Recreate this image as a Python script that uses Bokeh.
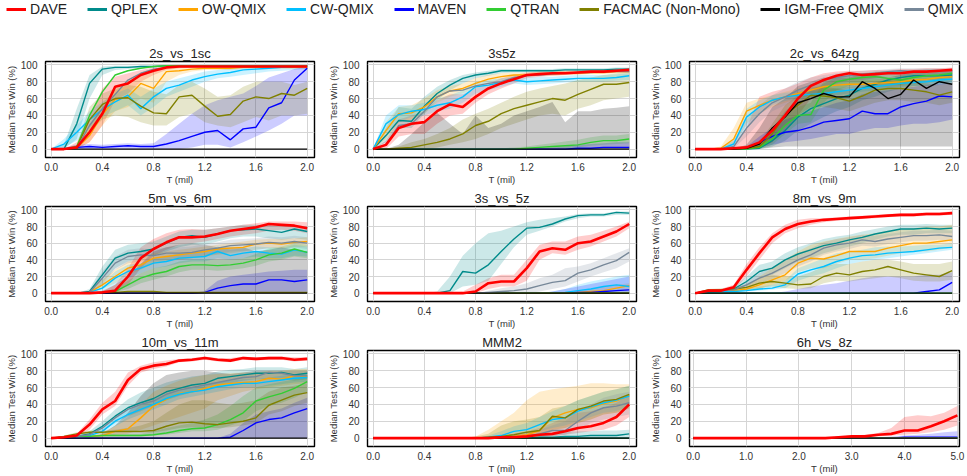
from bokeh.plotting import figure
from bokeh.models import Range1d, FixedTicker, PrintfTickFormatter, Legend, LegendItem
from bokeh.layouts import column, row
from bokeh.embed import file_html
from bokeh.resources import INLINE

FONT = "Liberation Sans"
NAMES = ["DAVE", "QPLEX", "OW-QMIX", "CW-QMIX", "MAVEN", "QTRAN",
         "FACMAC (Non-Mono)", "IGM-Free QMIX", "QMIX"]
COLORS = ["#ff0000", "#008b8b", "#ffa500", "#00bfff", "#0000ff", "#32cd32",
          "#808000", "#000000", "#778899"]
COL = dict(zip(NAMES, COLORS))

# x grids (millions of steps)
T2 = [0.0, 0.1, 0.2, 0.3, 0.4, 0.5, 0.6, 0.7, 0.8, 0.9, 1.0,
      1.1, 1.2, 1.3, 1.4, 1.5, 1.6, 1.7, 1.8, 1.9, 2.0]
T5 = [0.0, 0.25, 0.5, 0.75, 1.0, 1.25, 1.5, 1.75, 2.0, 2.25, 2.5,
      2.75, 3.0, 3.25, 3.5, 3.75, 4.0, 4.25, 4.5, 4.75, 5.0]
TICKS2 = [0.0, 0.4, 0.8, 1.2, 1.6, 2.0]
TICKS5 = [0.0, 1.0, 2.0, 3.0, 4.0, 5.0]
YTICKS = [0, 20, 40, 60, 80, 100]
ZERO = [0, 0, 0, 0, 0, 0, 0, 0, 0, 0, 0, 0, 0, 0, 0, 0, 0, 0, 0, 0, 0]

# ---------------- 2s_vs_1sc ----------------
s2v1_dave = [0, 0, 2, 20, 42, 74, 78, 88, 93, 97, 98, 98, 98, 98, 98, 98, 98, 98, 98, 98, 98]
s2v1_dave_lo = [0, 0, 0, 8, 28, 58, 66, 80, 88, 94, 96, 97, 97, 97, 97, 97, 97, 97, 97, 97, 97]
s2v1_dave_hi = [0, 0, 8, 38, 72, 86, 90, 94, 97, 99, 99, 99, 99, 99, 99, 99, 99, 99, 99, 99, 99]
s2v1_qplex = [0, 0, 30, 78, 95, 97, 97, 98, 98, 99, 99, 99, 99, 99, 99, 99, 99, 99, 99, 99, 99]
s2v1_qplex_lo = [0, 0, 12, 60, 88, 94, 95, 96, 97, 98, 98, 98, 98, 98, 98, 98, 98, 98, 98, 98, 98]
s2v1_qplex_hi = [0, 5, 48, 88, 98, 99, 99, 99, 99, 99, 99, 99, 99, 99, 99, 99, 99, 99, 99, 99, 99]
s2v1_ow = [0, 0, 1, 16, 41, 59, 62, 78, 72, 92, 93, 95, 96, 96, 96, 97, 97, 97, 97, 97, 97]
s2v1_ow_lo = [0, 0, 0, 8, 28, 45, 50, 60, 55, 80, 88, 92, 94, 94, 94, 95, 95, 95, 95, 95, 95]
s2v1_ow_hi = [0, 0, 4, 28, 55, 70, 80, 90, 92, 96, 97, 98, 98, 98, 98, 98, 98, 98, 98, 98, 98]
s2v1_cw = [0, 6, 20, 35, 47, 56, 64, 48, 62, 72, 76, 82, 86, 89, 91, 94, 95, 96, 97, 98, 98]
s2v1_cw_lo = [0, 2, 10, 25, 38, 45, 52, 40, 50, 62, 68, 74, 80, 84, 86, 88, 90, 92, 93, 94, 95]
s2v1_cw_hi = [0, 12, 28, 45, 56, 66, 72, 62, 72, 80, 84, 88, 92, 94, 96, 98, 98, 99, 99, 99, 99]
s2v1_maven = [0, 0, 2, 3, 2, 3, 4, 3, 3, 6, 10, 15, 20, 22, 11, 24, 26, 49, 55, 82, 96]
s2v1_maven_lo = [0, 0, 0, 0, 0, 0, 0, 0, 0, 0, 0, 2, 5, 5, 2, 8, 15, 22, 30, 40, 40]
s2v1_maven_hi = [0, 2, 5, 6, 5, 6, 7, 6, 7, 18, 30, 42, 52, 58, 62, 66, 75, 85, 90, 95, 98]
s2v1_qtran = [0, 0, 3, 40, 68, 88, 93, 96, 98, 99, 99, 99, 99, 99, 99, 99, 99, 99, 99, 99, 99]
s2v1_facmac = [0, 0, 2, 35, 53, 60, 61, 51, 43, 42, 62, 64, 51, 39, 41, 57, 62, 60, 66, 64, 72]
s2v1_facmac_lo = [0, 0, 0, 20, 35, 40, 38, 32, 28, 28, 38, 42, 32, 28, 26, 32, 38, 34, 40, 40, 42]
s2v1_facmac_hi = [0, 0, 5, 50, 66, 72, 76, 74, 68, 65, 76, 80, 72, 62, 64, 74, 80, 80, 80, 76, 80]
s2v1_qmix = [0, 0, 1, 28, 48, 65, 82, 90, 95, 97, 98, 98, 98, 98, 98, 98, 98, 98, 98, 98, 98]

# ---------------- 3s5z ----------------
s3s5z_dave = [0, 5, 25, 30, 32, 45, 53, 50, 62, 72, 78, 83, 88, 89, 90, 90, 91, 92, 92, 93, 94]
s3s5z_dave_lo = [0, 0, 15, 18, 18, 30, 40, 42, 55, 65, 72, 78, 84, 86, 87, 88, 89, 90, 90, 91, 92]
s3s5z_dave_hi = [0, 10, 35, 40, 45, 58, 65, 65, 72, 78, 84, 88, 91, 92, 92, 93, 94, 94, 95, 95, 96]
s3s5z_qplex = [0, 16, 34, 33, 51, 66, 76, 84, 88, 90, 93, 93, 93, 93, 93, 94, 94, 94, 94, 95, 95]
s3s5z_qplex_lo = [0, 8, 25, 25, 42, 58, 70, 78, 84, 87, 90, 91, 91, 91, 91, 92, 92, 92, 92, 93, 93]
s3s5z_qplex_hi = [0, 25, 50, 48, 62, 74, 82, 88, 91, 93, 95, 95, 95, 95, 95, 96, 96, 96, 96, 97, 97]
s3s5z_ow = [0, 22, 42, 43, 50, 62, 69, 72, 78, 83, 86, 88, 88, 89, 89, 90, 90, 91, 91, 92, 92]
s3s5z_ow_lo = [0, 12, 32, 35, 42, 55, 62, 66, 72, 78, 82, 85, 86, 87, 87, 88, 88, 89, 89, 90, 90]
s3s5z_ow_hi = [0, 32, 50, 52, 60, 70, 75, 78, 84, 88, 90, 91, 91, 92, 92, 93, 93, 93, 94, 94, 94]
s3s5z_cw = [0, 30, 41, 45, 47, 52, 55, 62, 74, 76, 79, 82, 80, 81, 82, 83, 84, 84, 84, 85, 87]
s3s5z_cw_lo = [0, 20, 32, 38, 40, 45, 48, 55, 66, 70, 74, 78, 76, 77, 78, 79, 80, 80, 80, 81, 82]
s3s5z_cw_hi = [0, 40, 52, 52, 55, 60, 64, 70, 80, 82, 84, 86, 85, 86, 86, 87, 88, 88, 88, 89, 90]
s3s5z_maven = [0, 0, 0, 0, 0, 0, 0, 0, 0, 0, 0, 0, 0, 0, 0, 0, 1, 1, 2, 2, 2]
s3s5z_maven_hi = [0, 0, 0, 0, 0, 0, 0, 0, 0, 0, 0, 0, 0, 1, 2, 3, 5, 6, 7, 8, 8]
s3s5z_qtran = [0, 0, 0, 0, 0, 0, 0, 0, 0, 0, 0, 0, 1, 2, 3, 4, 5, 8, 10, 10, 12]
s3s5z_qtran_lo = [0, 0, 0, 0, 0, 0, 0, 0, 0, 0, 0, 0, 0, 0, 1, 1, 2, 4, 5, 6, 7]
s3s5z_qtran_hi = [0, 0, 0, 0, 0, 0, 0, 0, 0, 0, 1, 2, 3, 5, 7, 9, 11, 14, 16, 16, 18]
s3s5z_facmac = [0, 0, 1, 2, 5, 8, 12, 18, 28, 33, 42, 48, 52, 56, 60, 58, 65, 71, 77, 77, 79]
s3s5z_facmac_lo = [0, 0, 0, 0, 0, 2, 5, 8, 12, 18, 25, 30, 35, 40, 42, 40, 48, 52, 58, 60, 62]
s3s5z_facmac_hi = [0, 0, 3, 8, 12, 18, 25, 35, 42, 48, 55, 62, 68, 72, 75, 78, 82, 85, 88, 90, 92]
s3s5z_igm_hi = [0, 0, 5, 18, 32, 43, 30, 18, 40, 25, 30, 40, 45, 50, 56, 32, 45, 45, 48, 49, 51]
s3s5z_qmix = [0, 5, 28, 30, 45, 62, 69, 70, 75, 78, 80, 85, 87, 88, 89, 90, 91, 91, 92, 92, 92]

# ---------------- 2c_vs_64zg ----------------
c64_dave = [0, 0, 0, 1, 2, 8, 22, 40, 60, 75, 82, 87, 90, 88, 89, 90, 90, 92, 92, 93, 94]
c64_dave_lo = [0, 0, 0, 0, 0, 2, 8, 22, 40, 60, 70, 78, 82, 82, 84, 85, 86, 88, 88, 89, 90]
c64_dave_hi = [0, 0, 0, 5, 25, 62, 68, 72, 78, 85, 90, 92, 93, 93, 94, 94, 95, 95, 96, 96, 97]
c64_qplex = [0, 0, 0, 0, 0, 1, 10, 22, 38, 48, 54, 60, 64, 72, 77, 82, 85, 87, 87, 87, 88]
c64_qplex_lo = [0, 0, 0, 0, 0, 0, 3, 10, 22, 30, 38, 45, 50, 58, 62, 68, 72, 75, 75, 76, 78]
c64_qplex_hi = [0, 0, 0, 0, 2, 8, 25, 45, 58, 70, 78, 85, 88, 90, 92, 93, 94, 94, 95, 95, 95]
c64_ow = [0, 0, 1, 12, 45, 52, 58, 62, 66, 70, 74, 76, 77, 77, 78, 79, 80, 82, 83, 85, 86]
c64_ow_lo = [0, 0, 0, 5, 30, 42, 50, 55, 60, 64, 68, 70, 72, 72, 73, 74, 75, 77, 78, 80, 81]
c64_ow_hi = [0, 0, 3, 25, 55, 60, 64, 68, 72, 76, 79, 81, 82, 82, 83, 84, 85, 87, 88, 89, 90]
c64_cw = [0, 0, 0, 6, 38, 50, 58, 62, 64, 65, 66, 68, 70, 72, 74, 76, 78, 79, 80, 82, 83]
c64_cw_lo = [0, 0, 0, 2, 28, 42, 52, 57, 60, 61, 62, 64, 66, 68, 70, 72, 74, 75, 76, 78, 79]
c64_cw_hi = [0, 0, 1, 12, 48, 58, 64, 67, 68, 69, 70, 72, 74, 76, 78, 80, 82, 83, 84, 86, 87]
c64_maven = [0, 0, 0, 0, 1, 8, 15, 20, 22, 26, 32, 34, 36, 45, 42, 42, 50, 54, 57, 63, 62]
c64_maven_lo = [0, 0, 0, 0, 0, 2, 5, 8, 10, 12, 15, 18, 18, 22, 25, 25, 28, 30, 30, 32, 35]
c64_maven_hi = [0, 0, 0, 0, 3, 15, 25, 35, 40, 45, 50, 55, 58, 65, 68, 70, 72, 74, 76, 78, 78]
c64_qtran = [0, 0, 0, 0, 0, 2, 12, 28, 40, 41, 70, 80, 83, 85, 86, 84, 82, 85, 87, 88, 90]
c64_qtran_lo = [0, 0, 0, 0, 0, 0, 5, 18, 30, 32, 55, 70, 75, 78, 80, 78, 76, 80, 82, 83, 85]
c64_qtran_hi = [0, 0, 0, 0, 1, 6, 20, 38, 50, 55, 80, 86, 88, 90, 90, 89, 88, 90, 91, 92, 93]
c64_facmac = [0, 0, 0, 0, 1, 3, 18, 40, 52, 64, 63, 61, 57, 63, 70, 72, 72, 70, 68, 64, 68]
c64_facmac_lo = [0, 0, 0, 0, 0, 1, 8, 28, 40, 50, 50, 48, 45, 50, 55, 58, 58, 56, 55, 52, 55]
c64_facmac_hi = [0, 0, 0, 0, 3, 8, 30, 52, 64, 74, 74, 72, 70, 74, 80, 82, 82, 80, 78, 76, 78]
c64_igm = [0, 0, 0, 0, 1, 6, 25, 38, 55, 60, 66, 62, 62, 80, 72, 60, 65, 82, 72, 80, 77]
c64_igm_lo = [0, 0, 0, 0, 0, 0, 2, 3, 3, 3, 3, 3, 3, 3, 3, 3, 3, 3, 3, 3, 3]
c64_igm_hi = [0, 0, 0, 0, 5, 25, 50, 60, 75, 80, 85, 85, 85, 90, 88, 85, 88, 92, 90, 92, 92]
c64_qmix = [0, 0, 0, 3, 25, 42, 55, 62, 70, 76, 82, 85, 87, 89, 90, 92, 93, 92, 92, 93, 93]
c64_qmix_lo = [0, 0, 0, 1, 15, 32, 45, 52, 60, 68, 75, 78, 80, 82, 84, 86, 87, 86, 86, 87, 87]
c64_qmix_hi = [0, 0, 2, 10, 35, 52, 64, 72, 80, 85, 88, 90, 92, 93, 94, 95, 96, 96, 96, 96, 96]

# ---------------- 5m_vs_6m ----------------
m5v6_dave = [0, 0, 0, 0, 1, 3, 20, 42, 53, 61, 67, 67, 68, 71, 75, 77, 79, 83, 82, 81, 78]
m5v6_dave_lo = [0, 0, 0, 0, 0, 0, 10, 30, 45, 52, 58, 60, 62, 65, 68, 70, 72, 75, 76, 75, 72]
m5v6_dave_hi = [0, 0, 0, 0, 3, 10, 30, 55, 65, 72, 76, 77, 76, 78, 80, 82, 84, 86, 86, 86, 85]
m5v6_qplex = [0, 0, 0, 2, 22, 42, 48, 50, 53, 60, 67, 69, 67, 71, 75, 76, 77, 75, 73, 77, 74]
m5v6_qplex_lo = [0, 0, 0, 0, 12, 30, 38, 42, 45, 50, 55, 58, 58, 62, 66, 68, 68, 66, 64, 66, 64]
m5v6_qplex_hi = [0, 0, 0, 5, 32, 52, 58, 60, 62, 68, 74, 76, 76, 78, 80, 82, 82, 82, 80, 82, 80]
m5v6_ow = [0, 0, 0, 1, 10, 20, 30, 34, 42, 44, 46, 48, 50, 53, 54, 55, 59, 60, 59, 61, 62]
m5v6_ow_lo = [0, 0, 0, 0, 5, 12, 22, 28, 36, 38, 40, 42, 44, 46, 48, 50, 52, 54, 54, 55, 56]
m5v6_ow_hi = [0, 0, 0, 3, 16, 28, 38, 42, 48, 50, 52, 54, 56, 58, 60, 62, 64, 65, 65, 66, 67]
m5v6_cw = [0, 0, 0, 1, 6, 18, 26, 30, 36, 38, 42, 43, 44, 50, 45, 48, 50, 48, 47, 52, 49]
m5v6_cw_lo = [0, 0, 0, 0, 2, 10, 18, 24, 30, 32, 36, 38, 38, 42, 40, 42, 44, 42, 42, 45, 44]
m5v6_cw_hi = [0, 0, 0, 3, 12, 26, 34, 36, 42, 44, 48, 48, 50, 56, 52, 54, 56, 55, 54, 58, 56]
m5v6_maven = [0, 0, 0, 0, 0, 0, 0, 0, 0, 0, 0, 0, 1, 6, 9, 11, 11, 16, 16, 14, 16]
m5v6_maven_hi = [0, 0, 0, 0, 0, 0, 0, 0, 0, 0, 0, 0, 3, 15, 20, 22, 24, 26, 27, 28, 28]
m5v6_qtran = [0, 0, 0, 0, 1, 2, 10, 18, 23, 26, 32, 34, 34, 33, 34, 36, 40, 46, 48, 53, 49]
m5v6_qtran_lo = [0, 0, 0, 0, 0, 1, 5, 12, 16, 20, 25, 28, 28, 27, 28, 30, 33, 38, 40, 44, 42]
m5v6_qtran_hi = [0, 0, 0, 0, 2, 5, 15, 24, 30, 33, 38, 40, 40, 40, 40, 42, 47, 54, 56, 60, 58]
m5v6_facmac = [0, 0, 0, 0, 1, 1, 2, 2, 2, 1, 1, 1, 1, 1, 1, 1, 1, 1, 1, 1, 1]
m5v6_igm_hi = [0, 0, 0, 0, 2, 10, 20, 35, 50, 55, 58, 60, 58, 55, 55, 55, 50, 52, 55, 52, 50]
m5v6_qmix = [0, 0, 0, 1, 18, 36, 44, 46, 45, 48, 48, 49, 52, 54, 57, 58, 59, 61, 60, 62, 60]
m5v6_qmix_lo = [0, 0, 0, 0, 10, 28, 36, 38, 38, 40, 40, 42, 45, 47, 50, 51, 52, 54, 53, 55, 53]
m5v6_qmix_hi = [0, 0, 0, 3, 26, 44, 52, 54, 52, 55, 55, 56, 59, 61, 64, 65, 66, 68, 67, 69, 67]

# ---------------- 3s_vs_5z ----------------
s3v5_dave = [0, 0, 0, 0, 0, 0, 0, 0, 2, 12, 14, 14, 30, 50, 54, 52, 60, 62, 68, 74, 83]
s3v5_dave_lo = [0, 0, 0, 0, 0, 0, 0, 0, 0, 5, 8, 8, 15, 40, 48, 46, 52, 56, 62, 68, 78]
s3v5_dave_hi = [0, 0, 0, 0, 0, 0, 0, 2, 10, 18, 22, 22, 40, 58, 62, 62, 68, 70, 75, 80, 86]
s3v5_qplex = [0, 0, 0, 0, 0, 0, 3, 26, 24, 34, 50, 65, 78, 79, 83, 89, 93, 94, 94, 97, 96]
s3v5_qplex_lo = [0, 0, 0, 0, 0, 0, 0, 8, 10, 15, 35, 55, 70, 75, 80, 86, 90, 92, 92, 94, 94]
s3v5_qplex_hi = [0, 0, 0, 0, 0, 2, 20, 45, 60, 72, 75, 80, 85, 88, 90, 92, 95, 96, 96, 98, 98]
s3v5_ow = [0, 0, 0, 0, 0, 0, 0, 0, 0, 0, 0, 0, 0, 0, 0, 0, 1, 2, 3, 6, 9]
s3v5_ow_hi = [0, 0, 0, 0, 0, 0, 0, 0, 0, 0, 0, 0, 0, 0, 0, 1, 3, 5, 8, 10, 12]
s3v5_cw = [0, 0, 0, 0, 0, 0, 0, 0, 0, 0, 0, 0, 0, 0, 0, 1, 3, 5, 8, 10, 8]
s3v5_cw_hi = [0, 0, 0, 0, 0, 0, 0, 0, 0, 0, 0, 0, 0, 0, 2, 5, 10, 14, 17, 20, 22]
s3v5_maven = [0, 0, 0, 0, 0, 0, 0, 0, 0, 0, 0, 0, 0, 0, 0, 0, 1, 1, 2, 3, 4]
s3v5_maven_hi = [0, 0, 0, 0, 0, 0, 0, 0, 0, 0, 0, 0, 0, 0, 2, 5, 8, 11, 14, 17, 20]
s3v5_qmix = [0, 0, 0, 0, 0, 0, 0, 0, 0, 1, 2, 3, 5, 9, 13, 15, 24, 28, 34, 39, 49]
s3v5_qmix_lo = [0, 0, 0, 0, 0, 0, 0, 0, 0, 0, 0, 0, 0, 2, 5, 8, 14, 20, 25, 30, 38]
s3v5_qmix_hi = [0, 0, 0, 0, 0, 0, 0, 0, 0, 3, 6, 8, 12, 18, 22, 30, 32, 36, 42, 48, 54]

# ---------------- 8m_vs_9m ----------------
m8v9_dave = [0, 3, 3, 7, 28, 48, 67, 77, 83, 86, 88, 89, 90, 91, 92, 93, 94, 94, 95, 95, 96]
m8v9_dave_lo = [0, 2, 2, 4, 20, 40, 60, 72, 78, 82, 85, 87, 88, 89, 90, 91, 92, 92, 93, 93, 94]
m8v9_dave_hi = [0, 4, 5, 10, 35, 55, 72, 82, 88, 90, 90, 91, 92, 93, 94, 95, 96, 96, 97, 97, 98]
m8v9_qplex = [0, 2, 3, 5, 14, 26, 30, 40, 47, 52, 57, 60, 64, 67, 71, 74, 77, 77, 78, 77, 78]
m8v9_qplex_lo = [0, 1, 2, 3, 8, 18, 22, 30, 38, 42, 48, 52, 56, 60, 64, 68, 70, 70, 72, 72, 72]
m8v9_qplex_hi = [0, 3, 4, 7, 20, 34, 38, 48, 55, 60, 65, 68, 70, 74, 77, 80, 82, 82, 83, 82, 82]
m8v9_ow = [0, 2, 3, 3, 5, 10, 16, 22, 36, 42, 41, 45, 50, 50, 50, 54, 57, 60, 60, 62, 64]
m8v9_ow_lo = [0, 1, 2, 2, 3, 5, 10, 15, 25, 30, 30, 35, 40, 40, 42, 45, 48, 50, 50, 52, 55]
m8v9_ow_hi = [0, 3, 4, 5, 8, 20, 30, 40, 50, 58, 62, 65, 68, 70, 72, 75, 76, 78, 80, 80, 82]
m8v9_cw = [0, 1, 2, 2, 3, 5, 6, 10, 23, 28, 32, 38, 42, 45, 46, 48, 49, 50, 52, 54, 55]
m8v9_cw_lo = [0, 0, 1, 1, 2, 3, 4, 6, 15, 20, 24, 30, 35, 38, 40, 42, 44, 46, 48, 50, 52]
m8v9_cw_hi = [0, 2, 3, 3, 5, 8, 10, 15, 30, 36, 42, 48, 50, 52, 55, 56, 56, 57, 58, 58, 60]
m8v9_maven = [0, 0, 0, 0, 0, 0, 0, 0, 0, 0, 0, 0, 0, 0, 0, 0, 0, 0, 2, 4, 13]
m8v9_maven_hi = [0, 0, 0, 0, 0, 0, 0, 2, 5, 8, 10, 12, 15, 18, 20, 20, 20, 20, 22, 22, 25]
m8v9_facmac = [0, 4, 4, 5, 7, 12, 14, 12, 10, 11, 20, 24, 22, 26, 28, 32, 28, 24, 22, 20, 27]
m8v9_facmac_lo = [0, 2, 2, 3, 4, 6, 8, 6, 5, 6, 12, 15, 14, 16, 18, 20, 18, 15, 14, 14, 16]
m8v9_facmac_hi = [0, 5, 6, 7, 10, 18, 22, 20, 20, 25, 32, 35, 35, 38, 40, 40, 38, 35, 35, 35, 38]
m8v9_qmix = [0, 2, 3, 4, 10, 18, 24, 32, 40, 46, 54, 58, 60, 64, 62, 65, 67, 69, 69, 70, 68]
m8v9_qmix_lo = [0, 1, 2, 3, 6, 12, 17, 24, 32, 38, 46, 50, 53, 57, 56, 59, 61, 63, 63, 64, 62]
m8v9_qmix_hi = [0, 3, 4, 6, 14, 24, 31, 40, 48, 54, 61, 65, 67, 70, 69, 71, 73, 75, 75, 76, 75]

# ---------------- 10m_vs_11m ----------------
m10v11_dave = [0, 1, 3, 16, 34, 44, 69, 82, 86, 88, 92, 93, 95, 93, 92, 95, 94, 95, 95, 93, 94]
m10v11_dave_lo = [0, 0, 2, 10, 28, 38, 62, 78, 82, 85, 90, 91, 93, 91, 90, 93, 92, 93, 93, 91, 92]
m10v11_dave_hi = [0, 2, 5, 22, 42, 55, 78, 86, 90, 92, 94, 95, 97, 95, 95, 97, 96, 97, 97, 96, 96]
m10v11_qplex = [0, 1, 2, 5, 14, 26, 36, 42, 47, 55, 59, 63, 65, 71, 73, 75, 77, 77, 78, 75, 77]
m10v11_qplex_lo = [0, 0, 1, 3, 8, 18, 26, 32, 38, 45, 50, 54, 57, 62, 65, 68, 70, 70, 71, 68, 70]
m10v11_qplex_hi = [0, 2, 3, 8, 20, 34, 46, 54, 60, 66, 70, 73, 75, 79, 81, 82, 84, 84, 84, 82, 84]
m10v11_ow = [0, 1, 2, 2, 3, 8, 11, 24, 38, 46, 53, 55, 59, 63, 65, 66, 67, 71, 70, 74, 73]
m10v11_ow_lo = [0, 0, 1, 1, 2, 4, 5, 10, 15, 20, 25, 30, 35, 45, 50, 55, 58, 60, 62, 64, 65]
m10v11_ow_hi = [0, 2, 3, 4, 6, 15, 25, 40, 55, 62, 68, 72, 75, 76, 77, 78, 78, 80, 80, 82, 82]
m10v11_cw = [0, 1, 2, 3, 8, 20, 28, 34, 40, 47, 52, 55, 57, 61, 63, 65, 65, 67, 69, 71, 72]
m10v11_cw_lo = [0, 0, 1, 2, 5, 14, 22, 28, 34, 40, 46, 49, 52, 55, 58, 60, 60, 62, 64, 66, 67]
m10v11_cw_hi = [0, 2, 3, 5, 12, 26, 34, 40, 46, 53, 58, 60, 62, 66, 68, 70, 70, 72, 74, 76, 77]
m10v11_maven = [0, 0, 0, 0, 0, 0, 0, 0, 0, 0, 0, 0, 0, 0, 1, 9, 18, 22, 24, 30, 35]
m10v11_maven_hi = [0, 0, 0, 0, 0, 0, 0, 0, 0, 0, 0, 0, 0, 0, 5, 18, 28, 32, 35, 42, 48]
m10v11_qtran = [0, 1, 2, 2, 3, 3, 3, 3, 4, 6, 9, 11, 12, 16, 22, 30, 44, 49, 53, 59, 67]
m10v11_qtran_lo = [0, 0, 1, 1, 2, 2, 2, 2, 3, 4, 6, 8, 8, 10, 15, 20, 32, 38, 42, 48, 55]
m10v11_qtran_hi = [0, 2, 3, 3, 4, 5, 5, 5, 8, 12, 15, 18, 22, 28, 38, 50, 60, 64, 67, 70, 75]
m10v11_facmac = [0, 2, 5, 7, 7, 8, 8, 8, 9, 14, 18, 19, 17, 16, 18, 20, 24, 39, 45, 51, 54]
m10v11_facmac_lo = [0, 1, 3, 5, 5, 6, 6, 6, 7, 9, 12, 13, 12, 12, 13, 15, 18, 28, 32, 38, 42]
m10v11_facmac_hi = [0, 3, 7, 9, 9, 10, 12, 15, 20, 30, 40, 45, 45, 42, 40, 42, 45, 55, 60, 62, 65]
m10v11_igm_hi = [0, 0, 0, 2, 5, 15, 30, 50, 65, 75, 78, 80, 80, 78, 76, 78, 80, 80, 80, 80, 80]
m10v11_qmix = [0, 1, 2, 4, 12, 24, 34, 40, 44, 52, 57, 60, 63, 66, 69, 72, 73, 78, 77, 74, 74]

# ---------------- MMM2 ----------------
mmm2_dave = [0, 0, 0, 0, 0, 0, 0, 0, 0, 0, 1, 1, 2, 4, 5, 8, 12, 14, 18, 25, 40]
mmm2_dave_lo = [0, 0, 0, 0, 0, 0, 0, 0, 0, 0, 0, 0, 0, 1, 2, 4, 6, 8, 10, 15, 25]
mmm2_dave_hi = [0, 0, 0, 0, 0, 0, 0, 0, 1, 2, 3, 5, 8, 12, 18, 25, 30, 32, 36, 42, 52]
mmm2_qplex = [0, 0, 0, 0, 0, 0, 0, 0, 0, 0, 0, 0, 0, 1, 1, 2, 2, 3, 3, 3, 5]
mmm2_qplex_hi = [0, 0, 0, 0, 0, 0, 0, 0, 0, 1, 2, 3, 4, 5, 6, 7, 8, 8, 9, 9, 10]
mmm2_ow = [0, 0, 0, 0, 0, 0, 0, 0, 0, 0, 1, 2, 4, 9, 24, 30, 34, 36, 41, 44, 51]
mmm2_ow_lo = [0, 0, 0, 0, 0, 0, 0, 0, 0, 0, 0, 0, 0, 2, 8, 12, 18, 22, 28, 30, 35]
mmm2_ow_hi = [0, 0, 0, 0, 0, 0, 0, 0, 2, 10, 20, 30, 45, 55, 58, 60, 62, 65, 65, 64, 64]
mmm2_cw = [0, 0, 0, 0, 0, 0, 0, 0, 0, 1, 3, 8, 10, 16, 22, 24, 32, 37, 42, 45, 50]
mmm2_cw_lo = [0, 0, 0, 0, 0, 0, 0, 0, 0, 0, 1, 3, 5, 8, 12, 15, 20, 25, 30, 32, 38]
mmm2_cw_hi = [0, 0, 0, 0, 0, 0, 0, 0, 0, 3, 8, 14, 18, 25, 32, 38, 45, 50, 55, 58, 62]
mmm2_facmac = [0, 0, 0, 0, 0, 0, 0, 0, 0, 1, 2, 4, 7, 9, 26, 24, 34, 38, 44, 46, 52]
mmm2_facmac_lo = [0, 0, 0, 0, 0, 0, 0, 0, 0, 0, 0, 1, 2, 3, 10, 12, 18, 22, 28, 30, 35]
mmm2_facmac_hi = [0, 0, 0, 0, 0, 0, 0, 0, 2, 5, 15, 20, 22, 25, 35, 38, 45, 50, 55, 58, 62]
mmm2_qmix = [0, 0, 0, 0, 0, 0, 0, 0, 0, 0, 0, 1, 2, 5, 9, 9, 20, 30, 36, 38, 42]
mmm2_qmix_lo = [0, 0, 0, 0, 0, 0, 0, 0, 0, 0, 0, 0, 0, 1, 3, 4, 10, 18, 22, 25, 28]
mmm2_qmix_hi = [0, 0, 0, 0, 0, 0, 0, 0, 0, 0, 1, 3, 6, 10, 15, 20, 32, 40, 48, 52, 55]

# ---------------- 6h_vs_8z ----------------
h6v8_dave = [0, 0, 0, 0, 0, 0, 0, 0, 0, 0, 0, 1, 2, 2, 4, 5, 9, 9, 14, 20, 27]
h6v8_dave_lo = [0, 0, 0, 0, 0, 0, 0, 0, 0, 0, 0, 0, 1, 1, 2, 3, 4, 5, 7, 10, 15]
h6v8_dave_hi = [0, 0, 0, 0, 0, 0, 0, 0, 0, 0, 0, 2, 3, 4, 6, 12, 25, 27, 26, 30, 38]
h6v8_maven = [0, 0, 0, 0, 0, 0, 0, 0, 0, 0, 0, 0, 0, 0, 0, 0, 1, 1, 1, 1, 1]
h6v8_maven_hi = [0, 0, 0, 0, 0, 0, 0, 0, 0, 0, 0, 0, 0, 1, 1, 2, 3, 4, 5, 7, 8]

# ---------- tables built from the arrays above ----------
PANELS = [
    ("2s_vs_1sc", T2, TICKS2,
     {"DAVE": s2v1_dave, "QPLEX": s2v1_qplex, "OW-QMIX": s2v1_ow, "CW-QMIX": s2v1_cw,
      "MAVEN": s2v1_maven, "QTRAN": s2v1_qtran, "FACMAC (Non-Mono)": s2v1_facmac,
      "IGM-Free QMIX": ZERO, "QMIX": s2v1_qmix},
     {"DAVE": (s2v1_dave_lo, s2v1_dave_hi), "QPLEX": (s2v1_qplex_lo, s2v1_qplex_hi),
      "OW-QMIX": (s2v1_ow_lo, s2v1_ow_hi), "CW-QMIX": (s2v1_cw_lo, s2v1_cw_hi),
      "MAVEN": (s2v1_maven_lo, s2v1_maven_hi),
      "FACMAC (Non-Mono)": (s2v1_facmac_lo, s2v1_facmac_hi)}),
    ("3s5z", T2, TICKS2,
     {"DAVE": s3s5z_dave, "QPLEX": s3s5z_qplex, "OW-QMIX": s3s5z_ow, "CW-QMIX": s3s5z_cw,
      "MAVEN": s3s5z_maven, "QTRAN": s3s5z_qtran, "FACMAC (Non-Mono)": s3s5z_facmac,
      "IGM-Free QMIX": ZERO, "QMIX": s3s5z_qmix},
     {"DAVE": (s3s5z_dave_lo, s3s5z_dave_hi), "QPLEX": (s3s5z_qplex_lo, s3s5z_qplex_hi),
      "OW-QMIX": (s3s5z_ow_lo, s3s5z_ow_hi), "CW-QMIX": (s3s5z_cw_lo, s3s5z_cw_hi),
      "MAVEN": (ZERO, s3s5z_maven_hi), "QTRAN": (s3s5z_qtran_lo, s3s5z_qtran_hi),
      "FACMAC (Non-Mono)": (s3s5z_facmac_lo, s3s5z_facmac_hi),
      "IGM-Free QMIX": (ZERO, s3s5z_igm_hi)}),
    ("2c_vs_64zg", T2, TICKS2,
     {"DAVE": c64_dave, "QPLEX": c64_qplex, "OW-QMIX": c64_ow, "CW-QMIX": c64_cw,
      "MAVEN": c64_maven, "QTRAN": c64_qtran, "FACMAC (Non-Mono)": c64_facmac,
      "IGM-Free QMIX": c64_igm, "QMIX": c64_qmix},
     {"DAVE": (c64_dave_lo, c64_dave_hi), "QPLEX": (c64_qplex_lo, c64_qplex_hi),
      "OW-QMIX": (c64_ow_lo, c64_ow_hi), "CW-QMIX": (c64_cw_lo, c64_cw_hi),
      "MAVEN": (c64_maven_lo, c64_maven_hi), "QTRAN": (c64_qtran_lo, c64_qtran_hi),
      "FACMAC (Non-Mono)": (c64_facmac_lo, c64_facmac_hi),
      "IGM-Free QMIX": (c64_igm_lo, c64_igm_hi), "QMIX": (c64_qmix_lo, c64_qmix_hi)}),
    ("5m_vs_6m", T2, TICKS2,
     {"DAVE": m5v6_dave, "QPLEX": m5v6_qplex, "OW-QMIX": m5v6_ow, "CW-QMIX": m5v6_cw,
      "MAVEN": m5v6_maven, "QTRAN": m5v6_qtran, "FACMAC (Non-Mono)": m5v6_facmac,
      "IGM-Free QMIX": ZERO, "QMIX": m5v6_qmix},
     {"DAVE": (m5v6_dave_lo, m5v6_dave_hi), "QPLEX": (m5v6_qplex_lo, m5v6_qplex_hi),
      "OW-QMIX": (m5v6_ow_lo, m5v6_ow_hi), "CW-QMIX": (m5v6_cw_lo, m5v6_cw_hi),
      "MAVEN": (ZERO, m5v6_maven_hi), "QTRAN": (m5v6_qtran_lo, m5v6_qtran_hi),
      "IGM-Free QMIX": (ZERO, m5v6_igm_hi), "QMIX": (m5v6_qmix_lo, m5v6_qmix_hi)}),
    ("3s_vs_5z", T2, TICKS2,
     {"DAVE": s3v5_dave, "QPLEX": s3v5_qplex, "OW-QMIX": s3v5_ow, "CW-QMIX": s3v5_cw,
      "MAVEN": s3v5_maven, "QTRAN": ZERO, "FACMAC (Non-Mono)": ZERO,
      "IGM-Free QMIX": ZERO, "QMIX": s3v5_qmix},
     {"DAVE": (s3v5_dave_lo, s3v5_dave_hi), "QPLEX": (s3v5_qplex_lo, s3v5_qplex_hi),
      "OW-QMIX": (ZERO, s3v5_ow_hi), "CW-QMIX": (ZERO, s3v5_cw_hi),
      "MAVEN": (ZERO, s3v5_maven_hi), "QMIX": (s3v5_qmix_lo, s3v5_qmix_hi)}),
    ("8m_vs_9m", T2, TICKS2,
     {"DAVE": m8v9_dave, "QPLEX": m8v9_qplex, "OW-QMIX": m8v9_ow, "CW-QMIX": m8v9_cw,
      "MAVEN": m8v9_maven, "QTRAN": ZERO, "FACMAC (Non-Mono)": m8v9_facmac,
      "IGM-Free QMIX": ZERO, "QMIX": m8v9_qmix},
     {"DAVE": (m8v9_dave_lo, m8v9_dave_hi), "QPLEX": (m8v9_qplex_lo, m8v9_qplex_hi),
      "OW-QMIX": (m8v9_ow_lo, m8v9_ow_hi), "CW-QMIX": (m8v9_cw_lo, m8v9_cw_hi),
      "MAVEN": (ZERO, m8v9_maven_hi),
      "FACMAC (Non-Mono)": (m8v9_facmac_lo, m8v9_facmac_hi),
      "QMIX": (m8v9_qmix_lo, m8v9_qmix_hi)}),
    ("10m_vs_11m", T2, TICKS2,
     {"DAVE": m10v11_dave, "QPLEX": m10v11_qplex, "OW-QMIX": m10v11_ow, "CW-QMIX": m10v11_cw,
      "MAVEN": m10v11_maven, "QTRAN": m10v11_qtran, "FACMAC (Non-Mono)": m10v11_facmac,
      "IGM-Free QMIX": ZERO, "QMIX": m10v11_qmix},
     {"DAVE": (m10v11_dave_lo, m10v11_dave_hi), "QPLEX": (m10v11_qplex_lo, m10v11_qplex_hi),
      "OW-QMIX": (m10v11_ow_lo, m10v11_ow_hi), "CW-QMIX": (m10v11_cw_lo, m10v11_cw_hi),
      "MAVEN": (ZERO, m10v11_maven_hi), "QTRAN": (m10v11_qtran_lo, m10v11_qtran_hi),
      "FACMAC (Non-Mono)": (m10v11_facmac_lo, m10v11_facmac_hi),
      "IGM-Free QMIX": (ZERO, m10v11_igm_hi)}),
    ("MMM2", T2, TICKS2,
     {"DAVE": mmm2_dave, "QPLEX": mmm2_qplex, "OW-QMIX": mmm2_ow, "CW-QMIX": mmm2_cw,
      "MAVEN": ZERO, "QTRAN": ZERO, "FACMAC (Non-Mono)": mmm2_facmac,
      "IGM-Free QMIX": ZERO, "QMIX": mmm2_qmix},
     {"DAVE": (mmm2_dave_lo, mmm2_dave_hi), "QPLEX": (ZERO, mmm2_qplex_hi),
      "OW-QMIX": (mmm2_ow_lo, mmm2_ow_hi), "CW-QMIX": (mmm2_cw_lo, mmm2_cw_hi),
      "FACMAC (Non-Mono)": (mmm2_facmac_lo, mmm2_facmac_hi),
      "QMIX": (mmm2_qmix_lo, mmm2_qmix_hi)}),
    ("6h_vs_8z", T5, TICKS5,
     {"DAVE": h6v8_dave, "QPLEX": ZERO, "OW-QMIX": ZERO, "CW-QMIX": ZERO,
      "MAVEN": h6v8_maven, "QTRAN": ZERO, "FACMAC (Non-Mono)": ZERO,
      "IGM-Free QMIX": ZERO, "QMIX": ZERO},
     {"DAVE": (h6v8_dave_lo, h6v8_dave_hi), "MAVEN": (ZERO, h6v8_maven_hi)}),
]

DRAW_ORDER = ["QPLEX", "OW-QMIX", "CW-QMIX", "MAVEN", "QTRAN", "FACMAC (Non-Mono)",
              "QMIX", "IGM-Free QMIX", "DAVE"]
TEXT_COLOR = "#333333"
COL_W = [322, 322, 323]
ROW_H = [162, 144, 145]
ROW_TOP = [36, 18, 19]


def make_panel(title, xs, xticks, med, bands, w, h, top):
    xr = (-0.044, 2.057) if xs is T2 else (-0.07, 5.04)
    p = figure(width=w, height=h, x_range=Range1d(*xr), y_range=Range1d(-10, 104),
               title=title, output_backend="svg", toolbar_location=None,
               min_border_left=45, min_border_right=8, min_border_top=top,
               min_border_bottom=28, background_fill_color="white",
               border_fill_color="white", outline_line_color="black",
               outline_line_width=1.4)
    p.title.align = "center"
    p.title.text_font = FONT
    p.title.text_font_size = "13px"
    p.title.text_font_style = "normal"
    p.title.text_color = "#222222"
    p.title.standoff = 2
    for name in NAMES:
        if name in bands:
            lo, hi = bands[name]
            p.varea(x=xs, y1=lo, y2=hi, fill_color=COL[name], fill_alpha=0.2)
    for name in DRAW_ORDER:
        p.line(x=xs, y=med[name], line_color=COL[name],
               line_width=2.6 if name == "DAVE" else 1.4)
    p.xaxis.ticker = FixedTicker(ticks=xticks)
    p.xaxis.formatter = PrintfTickFormatter(format="%.1f")
    p.yaxis.ticker = FixedTicker(ticks=YTICKS)
    p.xaxis.axis_label = "T (mil)"
    p.yaxis.axis_label = "Median Test Win (%)"
    for ax in (p.xaxis[0], p.yaxis[0]):
        ax.axis_line_color = None
        ax.major_tick_line_color = None
        ax.minor_tick_line_color = None
        ax.major_tick_out = 0
        ax.major_tick_in = 0
        ax.minor_tick_out = 0
        ax.minor_tick_in = 0
        ax.major_label_text_font = FONT
        ax.major_label_text_font_size = "10px"
        ax.major_label_text_color = TEXT_COLOR
        ax.axis_label_text_font = FONT
        ax.axis_label_text_font_size = "9.5px"
        ax.axis_label_text_font_style = "normal"
        ax.axis_label_text_color = TEXT_COLOR
    p.xaxis.major_label_standoff = 5
    p.xaxis.axis_label_standoff = 0
    p.yaxis.major_label_standoff = 8
    p.yaxis.axis_label_standoff = 1
    p.xgrid.grid_line_color = "#d5d5d5"
    p.ygrid.grid_line_color = "#d5d5d5"
    p.xgrid.grid_line_width = 1
    p.ygrid.grid_line_width = 1
    return p


# legend strip: one-point proxy lines (nothing visible is drawn by them)
lf = figure(width=967, height=25, x_range=Range1d(0, 1), y_range=Range1d(0, 1),
            x_axis_type=None, y_axis_type=None, toolbar_location=None,
            output_backend="svg", min_border=0, outline_line_color=None)
items = []
for n in NAMES:
    r = lf.line(x=[float("nan")], y=[float("nan")], line_color=COL[n], line_width=3)
    items.append(LegendItem(label=n, renderers=[r]))
leg = Legend(items=items, orientation="horizontal", location=(6, 8),
             glyph_width=20, glyph_height=14, label_standoff=4, spacing=20,
             padding=0, margin=0, border_line_color=None, background_fill_alpha=0,
             label_text_font=FONT, label_text_font_size="14px",
             label_text_color="#222222", label_height=14)
lf.add_layout(leg, "center")

rows = [lf]
for r_i in range(3):
    figs = []
    for c_i in range(3):
        title, xs, xticks, med, bands = PANELS[r_i * 3 + c_i]
        figs.append(make_panel(title, xs, xticks, med, bands,
                               COL_W[c_i], ROW_H[r_i], ROW_TOP[r_i]))
    rows.append(row(*figs))

layout = column(*rows)
open("out.html", "w").write(file_html(layout, INLINE))
